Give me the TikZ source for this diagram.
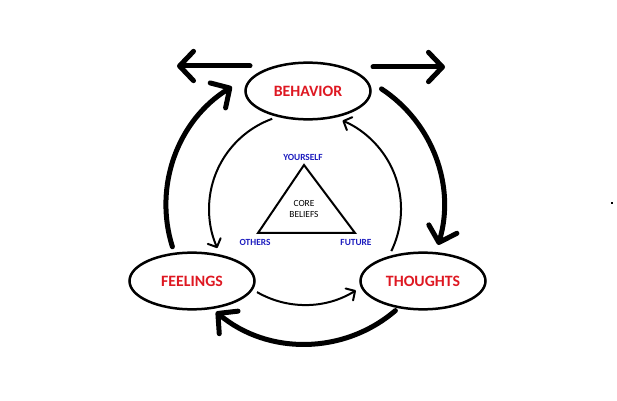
\documentclass[tikz,border=0pt]{standalone}
\usepackage{fontspec}
\setmainfont{Carlito}
\usetikzlibrary{arrows.meta,shapes.geometric,calc}
\definecolor{lblred}{RGB}{222,24,34}
\definecolor{lblblue}{RGB}{28,28,190}
\begin{document}
\begin{tikzpicture}[x=0.03cm,y=0.03cm,
  state/.style={ellipse,draw,line width=0.075cm,minimum width=3.75cm,minimum height=1.7cm,inner sep=0pt,
    font=\fontsize{13.5}{16}\selectfont\bfseries,text=lblred},
  corner/.style={font=\fontsize{8}{10}\selectfont\bfseries,text=lblblue,inner sep=0pt},
  core/.style={font=\fontsize{8}{10.2}\selectfont,align=center,inner sep=0pt},
  bigarrow/.style={line width=0.15cm,line cap=round,-{Straight Barb[length=0.42cm,width=0.88cm,round]}},
  smallarrow/.style={line width=0.06cm,-{Straight Barb[length=0.2cm,width=0.42cm,round]}},
  tri/.style={line width=0.06cm,line join=miter},
]
\useasboundingbox (0,0) rectangle (617,-401);

% states
\node[state] (beh) at (308,-91) {BEHAVIOR};
\node[state] (fee) at (192,-281) {FEELINGS};
\node[state] (tho) at (423,-281) {THOUGHTS};

% core beliefs triangle
\coordinate (ty) at (304,-165);
\coordinate (to) at (258,-233);
\coordinate (tf) at (355,-233);
\draw[tri] (ty) -- (to) -- (tf) -- cycle;
\node[corner] (lyou) at (303,-157) {YOURSELF};
\node[corner] (loth) at (255,-242) {OTHERS};
\node[corner] (lfut) at (356,-242) {FUTURE};
\node[core] (lcore) at (304,-209) {CORE\\BELIEFS};

% outer thick cycle (clockwise)
\draw[bigarrow] ($(fee)+(-19.6,34.2)$) arc[start angle=197.5,end angle=121.7,radius=4.17cm];
\draw[bigarrow] ($(beh)+(73.5,2.1)$) arc[start angle=56.6,end angle=-16.7,radius=4.17cm];
\draw[bigarrow] ($(tho)+(-27.6,-29.6)$) arc[start angle=-49.4,end angle=-129.8,radius=4.17cm];

% inner thin cycle (counter-clockwise)
\draw[smallarrow] ($(beh)+(-35.8,-27.8)$) arc[start angle=110,end angle=204,radius=2.88cm];
\draw[smallarrow] ($(fee)+(65,-11.1)$) arc[start angle=240,end angle=302,radius=2.88cm];
\draw[smallarrow] ($(tho)+(-31.7,29.9)$) arc[start angle=334,end angle=427,radius=2.88cm];

% horizontal arrows
\coordinate (lend) at (177,-66);
\coordinate (rend) at (445,-67);
\draw[bigarrow] ($(beh)+(-58,25)$) -- (lend);
\draw[bigarrow] ($(beh)+(65,24)$) -- (rend);

% stray dot
\fill (611,-204) rectangle (613,-202);
\end{tikzpicture}
\end{document}
